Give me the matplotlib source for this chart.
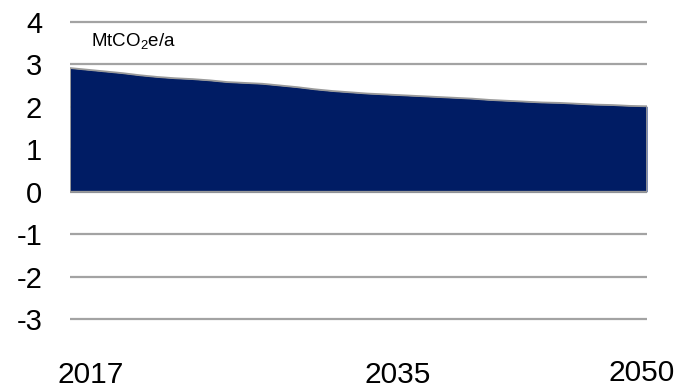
import matplotlib
matplotlib.use("Agg")
import matplotlib.pyplot as plt

plt.rcParams["font.family"] = ["Liberation Sans", "DejaVu Sans"]
plt.rcParams["mathtext.fontset"] = "custom"
plt.rcParams["mathtext.rm"] = "Liberation Sans"
plt.rcParams["mathtext.it"] = "Liberation Sans"

# Annual emissions, MtCO2e per year
years = list(range(2017, 2051))
emissions = [2.91, 2.87, 2.83, 2.79, 2.74, 2.70, 2.67, 2.65, 2.62, 2.58,
             2.56, 2.54, 2.50, 2.46, 2.41, 2.37, 2.34, 2.31, 2.29, 2.27,
             2.25, 2.23, 2.21, 2.19, 2.16, 2.14, 2.12, 2.10, 2.09, 2.07,
             2.05, 2.04, 2.02, 2.01]

y_ticks = [4, 3, 2, 1, 0, -1, -2, -3]
x_labels = ["2017", "2035", "2050"]
unit_label = r"MtCO$_2$e/a"

W, H = 679, 390
fig = plt.figure(figsize=(W / 100, H / 100), dpi=100)

ymin, ymax = -3.2, 4.2
px_per_unit = 42.6
y_top_px = 21.7 - (ymax - 4) * px_per_unit
y_bot_px = 319.3 + (-3 - ymin) * px_per_unit
x_left_px, x_right_px = 70, 647
ax = fig.add_axes([x_left_px / W, 1 - y_bot_px / H,
                   (x_right_px - x_left_px) / W, (y_bot_px - y_top_px) / H])

ax.set_xlim(years[0], years[-1])
ax.set_ylim(ymin, ymax)

for yv in y_ticks:
    ax.axhline(yv, color="#a3a3a3", lw=1.6, zorder=1)

ax.fill_between(years, 0, emissions, color="#001c64", zorder=2, lw=0)
# grey outline around the filled area
outline_x = [years[0]] + years + [years[-1], years[0]]
outline_y = [0] + emissions + [0, 0]
ax.plot(outline_x, outline_y, color="#9a9a9a", lw=1.3, zorder=3,
        solid_joinstyle="miter")

for s in ax.spines.values():
    s.set_visible(False)

ax.set_yticks(y_ticks)
ax.set_yticklabels([str(v) for v in y_ticks])
ax.tick_params(axis="y", length=0, pad=20, labelsize=21)
ax.set_xticks([])

# year labels under the chart
x_offsets = {"2017": 15, "2035": 9, "2050": -4}
y_offsets = {"2017": 0.5, "2035": 0.5, "2050": 2.5}
for lab in x_labels:
    ax.annotate(lab, xy=(int(lab), 0), xycoords=("data", "figure fraction"),
                xytext=(x_offsets[lab], y_offsets[lab]),
                textcoords="offset points",
                ha="center", va="bottom", fontsize=21.5)

ax.text(91 / W, 1 - 41 / H, unit_label, transform=fig.transFigure,
        fontsize=13.5, ha="left", va="center")

fig.savefig("out.png", dpi=100)
